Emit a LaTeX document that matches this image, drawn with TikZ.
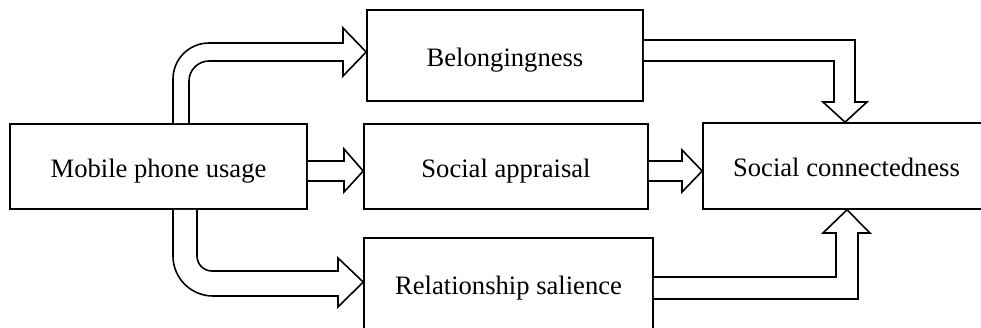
\documentclass[tikz,border=0pt]{standalone}
\usepackage{fontspec}
\setmainfont{Liberation Serif}
\begin{document}
\begin{tikzpicture}[x=1pt,y=-1pt,
  box/.style={draw, line width=1.6pt, inner sep=0pt, align=center,
    text height=21pt, text depth=0pt,
    font=\fontsize{26.6}{32}\selectfont},
  blockarrow/.style={draw, fill=white, line width=1.6pt, line join=miter}]
\useasboundingbox (0,0) rectangle (981,327);
\clip (0,0) rectangle (981,327);

% boxes
\node[box, minimum width=297pt, minimum height=85pt] (mob)  at (158.5,166.5) {Mobile phone usage};
\node[box, minimum width=276pt, minimum height=91pt] (bel)  at (505,55.5)    {Belongingness};
\node[box, minimum width=284pt, minimum height=85pt] (app)  at (506,166.5)   {Social appraisal};
\node[box, minimum width=289pt, minimum height=91pt] (rel)  at (508.5,283.5) {Relationship salience};
\node[box, minimum width=287pt, minimum height=86pt] (conn) at (846.5,166)   {Social connectedness};

% mobile phone usage -> belongingness (bent upwards)
\draw[blockarrow] (mob.north -| 173,0) -- (173,79)
  .. controls (173,59.1) and (189.1,43) .. (209,43) -- (343,43) -- (343,28)
  -- (bel.west |- 0,52) -- (343,76) -- (343,61) -- (209,61)
  .. controls (198,61) and (189,70) .. (189,81) -- (mob.north -| 189,0);

% mobile phone usage -> social appraisal
\draw[blockarrow] (mob.east |- 0,161) -- (344,161) -- (344,149)
  -- (app.west |- 0,171) -- (344,192) -- (344,181) -- (mob.east |- 0,181);

% mobile phone usage -> relationship salience (bent downwards)
\draw[blockarrow] (mob.south -| 173,0) -- (173,256)
  .. controls (173,278.1) and (190.9,296) .. (213,296) -- (338,296) -- (338,307)
  -- (rel.west |- 0,282) -- (338,258) -- (338,271) -- (212,271)
  .. controls (203.7,271) and (197,264.3) .. (197,256) -- (mob.south -| 197,0);

% social appraisal -> social connectedness
\draw[blockarrow] (app.east |- 0,161) -- (682,161) -- (682,150)
  -- (conn.west |- 0,171) -- (682,192) -- (682,181) -- (app.east |- 0,181);

% belongingness -> social connectedness
\draw[blockarrow] (bel.east |- 0,40) -- (855,40) -- (855,102) -- (867,102)
  -- (conn.north -| 845,0) -- (823,102) -- (834,102) -- (834,61) -- (bel.east |- 0,61);

% relationship salience -> social connectedness
\draw[blockarrow] (rel.east |- 0,299) -- (858,299) -- (858,233) -- (870,233)
  -- (conn.south -| 847,0) -- (823,233) -- (836,233) -- (836,277) -- (rel.east |- 0,277);
\end{tikzpicture}
\end{document}
